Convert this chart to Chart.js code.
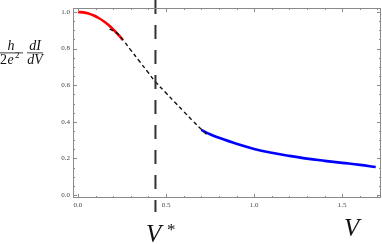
<!DOCTYPE html>
<html>
<head>
<meta charset="utf-8">
<script src="https://cdn.jsdelivr.net/npm/chart.js@4.4.1/dist/chart.umd.min.js"></script>
<style>
  html, body { margin: 0; padding: 0; background: #fff; }
  #wrap { width: 382px; height: 244px; position: relative; }
</style>
</head>
<body>
<div id="wrap"><canvas id="chart" width="382" height="244"></canvas></div>
<script>
// ---- data ----
const redX   = [0.0, 0.03, 0.06, 0.09, 0.12, 0.15, 0.18, 0.21, 0.24, 0.255];
const redY   = [1.0, 0.998, 0.992, 0.981, 0.966, 0.947, 0.924, 0.896, 0.864, 0.847];

const dashX  = [0.18, 0.22, 0.26, 0.30, 0.35, 0.40, 0.44, 0.50, 0.55, 0.60, 0.65, 0.70, 0.73];
const dashY  = [0.907, 0.886, 0.842, 0.792, 0.730, 0.668, 0.619, 0.558, 0.507, 0.457, 0.407, 0.359, 0.332];

const blueX  = [0.70, 0.75, 0.80, 0.90, 1.00, 1.10, 1.20, 1.30, 1.40, 1.50, 1.60, 1.69];
const blueY  = [0.356, 0.332, 0.313, 0.280, 0.252, 0.231, 0.214, 0.199, 0.187, 0.176, 0.165, 0.153];

const vStar  = 0.44;
const vLineY = [1.066, -0.093];

const xTicks = [0, 0.5, 1.0, 1.5];
const yTicks = [0, 0.2, 0.4, 0.6, 0.8, 1.0];

const toPts = (xs, ys) => xs.map((x, i) => ({ x: x, y: ys[i] }));

// frame ticks drawn inward on all four sides, Mathematica style
const frameTicks = {
    id: 'frameTicks',
    afterDraw(chart) {
        const ctx = chart.ctx;
        const a = chart.chartArea;
        const xs = chart.scales.x, ys = chart.scales.y;
        ctx.save();
        ctx.strokeStyle = '#8a8a8a';
        ctx.lineWidth = 1;
        ctx.strokeRect(a.left + 0.5, a.top + 0.5, a.right - a.left - 1, a.bottom - a.top - 1);
        ctx.beginPath();
        for (let i = 0; i <= 17; i++) {
            const v = i / 10;
            const px = Math.round(xs.getPixelForValue(v)) + 0.5;
            const len = (i % 5 === 0) ? 4 : 2;
            ctx.moveTo(px, a.bottom); ctx.lineTo(px, a.bottom - len);
            ctx.moveTo(px, a.top); ctx.lineTo(px, a.top + len);
        }
        for (let i = 0; i <= 20; i++) {
            const v = i / 20;
            const py = Math.round(ys.getPixelForValue(v)) + 0.5;
            const len = (i % 4 === 0) ? 4 : 2;
            ctx.moveTo(a.left, py); ctx.lineTo(a.left + len, py);
            ctx.moveTo(a.right, py); ctx.lineTo(a.right - len, py);
        }
        ctx.stroke();

        // axis labels
        ctx.fillStyle = '#111';
        ctx.textBaseline = 'alphabetic';
        ctx.textAlign = 'left';
        ctx.font = 'italic 25px "Liberation Serif"';
        ctx.fillText('V', 146, 242);
        ctx.font = '17px "Liberation Serif"';
        ctx.fillText('*', 167, 235);
        ctx.font = 'italic 25px "Liberation Serif"';
        ctx.fillText('V', 344, 236);

        // y label h/2e^2 dI/dV
        ctx.textAlign = 'center';
        ctx.font = 'italic 14px "Liberation Serif"';
        ctx.fillText('h', 11, 50);
        ctx.fillText('dI', 35, 50);
        ctx.fillRect(0, 52.5, 23, 0.8);
        ctx.fillRect(27, 52.5, 16, 0.8);
        ctx.font = '14px "Liberation Serif"';
        ctx.textAlign = 'left';
        ctx.fillText('2', 0, 64);
        ctx.font = 'italic 14px "Liberation Serif"';
        ctx.fillText('e', 7.5, 64);
        ctx.font = '9px "Liberation Serif"';
        ctx.fillText('2', 15, 58);
        ctx.font = 'italic 14px "Liberation Serif"';
        ctx.textAlign = 'center';
        ctx.fillText('dV', 35, 64);
        ctx.restore();
    }
};

new Chart(document.getElementById('chart'), {
    type: 'scatter',
    data: {
        datasets: [
            {
                data: toPts(dashX, dashY),
                showLine: true,
                borderColor: '#111',
                borderWidth: 1.4,
                borderDash: [4, 3],
                pointRadius: 0,
                tension: 0.4,
                order: 1
            },
            {
                data: toPts(redX, redY),
                showLine: true,
                borderColor: '#ff0000',
                borderWidth: 2.6,
                pointRadius: 0,
                tension: 0.4,
                order: 3
            },
            {
                data: toPts(blueX, blueY),
                showLine: true,
                borderColor: '#0000ff',
                borderWidth: 2.6,
                pointRadius: 0,
                tension: 0.4,
                order: 2
            },
            {
                data: vLineY.map(y => ({ x: vStar, y: y })),
                showLine: true,
                borderColor: '#333',
                borderWidth: 2,
                borderDash: [14, 11],
                pointRadius: 0,
                clip: false,
                order: 0
            }
        ]
    },
    options: {
        responsive: false,
        animation: false,
        events: [],
        layout: { padding: { left: 0, right: 1, top: 8, bottom: 0 } },
        plugins: {
            legend: { display: false },
            tooltip: { enabled: false }
        },
        scales: {
            x: {
                type: 'linear',
                min: -0.028,
                max: 1.72,
                afterFit(scale) { scale.height = 46; },
                afterBuildTicks(scale) { scale.ticks = xTicks.map(v => ({ value: v })); },
                grid: { display: false, drawTicks: false },
                border: { display: false },
                ticks: {
                    padding: 3,
                    color: '#444',
                    font: { family: 'Liberation Serif', size: 7 },
                    maxRotation: 0,
                    callback: v => v.toFixed(1)
                }
            },
            y: {
                type: 'linear',
                min: -0.016,
                max: 1.022,
                afterFit(scale) { scale.width = 73; },
                afterBuildTicks(scale) { scale.ticks = yTicks.map(v => ({ value: v })); },
                grid: { display: false, drawTicks: false },
                border: { display: false },
                ticks: {
                    padding: 3,
                    color: '#444',
                    font: { family: 'Liberation Serif', size: 7 },
                    callback: v => v.toFixed(1)
                }
            }
        }
    },
    plugins: [frameTicks]
});
</script>
</body>
</html>
